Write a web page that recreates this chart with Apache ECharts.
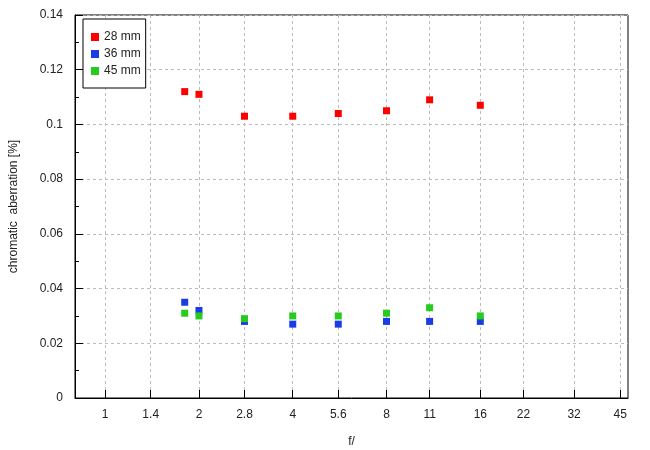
<!DOCTYPE html>
<html><head><meta charset="utf-8">
<script src="https://cdn.jsdelivr.net/npm/echarts@6/dist/echarts.min.js"></script>
<style>html,body{margin:0;padding:0;background:#fff}#c{width:650px;height:450px}</style>
</head><body><div id="c"></div>
<script>
var fNumbers = [1.8, 2, 2.8, 4, 5.6, 8, 11, 16];
var ca28 = [0.112, 0.111, 0.103, 0.103, 0.104, 0.105, 0.109, 0.107];
var ca36 = [0.035, 0.032, 0.028, 0.027, 0.027, 0.028, 0.028, 0.028];
var ca45 = [0.031, 0.030, 0.029, 0.030, 0.030, 0.031, 0.033, 0.030];
var xTickLabels = ['1', '1.4', '2', '2.8', '4', '5.6', '8', '11', '16', '22', '32', '45'];
var seriesNames = ['28 mm', '36 mm', '45 mm'];
var colors = ['#ff0000', '#1a3ce6', '#25cc1c'];

var FONT = 'Liberation Sans, Arial, sans-serif';
function lg(f) { return Math.log(f) / Math.LN2; }
var tickVals = xTickLabels.map(function (s) { return lg(parseFloat(s)); });
function labelFor(v) {
  var best = 0, d = Infinity;
  tickVals.forEach(function (t, i) { var e = Math.abs(t - v); if (e < d) { d = e; best = i; } });
  return xTickLabels[best];
}
function pairs(ys) { return fNumbers.map(function (f, i) { return [lg(f), ys[i]]; }); }
var allData = [ca28, ca36, ca45];

var chart = echarts.init(document.getElementById('c'), null, { renderer: 'canvas' });
chart.setOption({
  animation: false,
  backgroundColor: '#fff',
  textStyle: { fontFamily: FONT },
  grid: { left: 75, top: 15, right: 22, bottom: 52, show: true, borderColor: '#000', borderWidth: 1, backgroundColor: 'transparent', outerBoundsMode: 'none', containLabel: false },
  legend: {
    orient: 'vertical', left: 83, top: 19,
    backgroundColor: '#fff', borderColor: '#000', borderWidth: 1,
    padding: [11, 5, 10, 8], itemWidth: 8, itemHeight: 8, itemGap: 3,
    icon: 'rect',
    textStyle: { fontSize: 12, color: '#222', fontFamily: FONT, lineHeight: 14, padding: [0, 0, 0, 0] },
    data: seriesNames
  },
  xAxis: {
    type: 'value', min: lg(0.8), max: 5.575,
    name: 'f/', nameLocation: 'middle', nameGap: 38,
    nameTextStyle: { fontSize: 12, color: '#222', fontFamily: FONT },
    axisLine: { onZero: false, lineStyle: { color: '#000', width: 1 } },
    axisTick: { show: true, inside: true, length: 8, customValues: tickVals, lineStyle: { color: '#000' } },
    axisLabel: { customValues: tickVals, formatter: function (v) { return labelFor(v); }, fontSize: 12, color: '#222', margin: 11, fontFamily: FONT },
    splitLine: { show: true, lineStyle: { color: '#bbb', type: [3, 3], width: 1 } }
  },
  yAxis: {
    type: 'value', min: 0, max: 0.14, interval: 0.02,
    name: 'chromatic  aberration [%]', nameLocation: 'middle', nameGap: 55,
    nameTextStyle: { fontSize: 12, color: '#222', fontFamily: FONT },
    axisLine: { show: true, onZero: false, lineStyle: { color: '#000', width: 1 } },
    axisTick: { show: true, inside: true, length: 8, lineStyle: { color: '#000' } },
    minorTick: { show: true, splitNumber: 2, length: 4, lineStyle: { color: '#000' } },
    axisLabel: { fontSize: 12, color: '#222', margin: 12, fontFamily: FONT },
    splitLine: { show: true, lineStyle: { color: '#bbb', type: [3, 3], width: 1 } }
  },
  series: seriesNames.map(function (n, i) {
    return {
      name: n, type: 'scatter', symbol: 'rect', symbolSize: 7,
      itemStyle: { color: colors[i], opacity: 1 }, data: pairs(allData[i]), z: 2 + i
    };
  })
});
</script></body></html>
